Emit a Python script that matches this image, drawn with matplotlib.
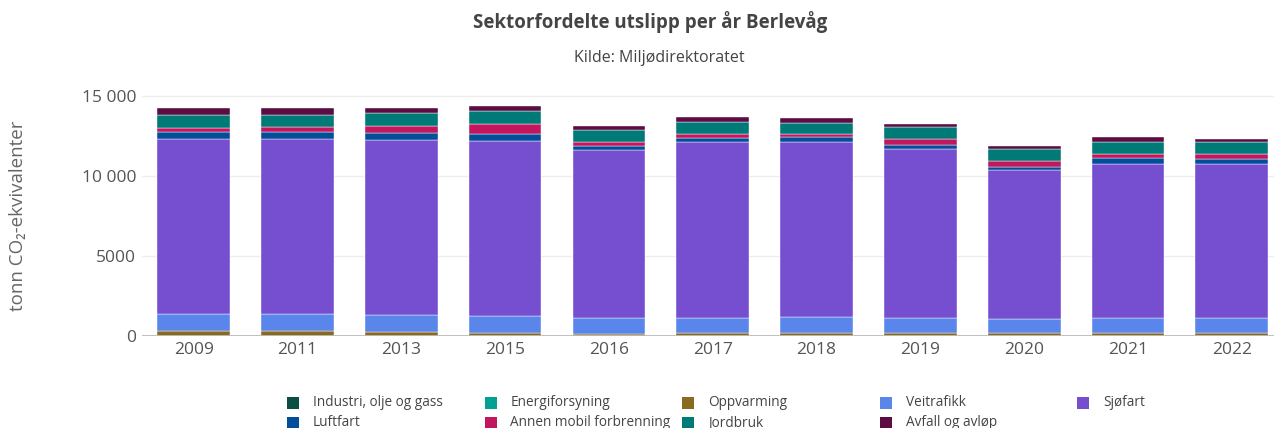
import matplotlib
matplotlib.use("Agg")
import matplotlib.pyplot as plt
from matplotlib.patches import Rectangle
import numpy as np

plt.rcParams['font.family'] = ['Open Sans', 'DejaVu Sans']

years = ["2009", "2011", "2013", "2015", "2016", "2017", "2018", "2019", "2020", "2021", "2022"]

industri = [0, 0, 0, 0, 0, 0, 0, 0, 0, 0, 0]
energiforsyning = [0, 0, 0, 0, 0, 0, 0, 0, 0, 0, 0]
oppvarming = [330, 330, 249, 187, 106, 187, 187, 187, 187, 187, 187]
veitrafikk = [1040, 1040, 1059, 1059, 1015, 934, 1015, 934, 872, 934, 934]
sjofart = [10941, 10941, 10941, 10941, 10461, 10978, 10897, 10524, 9278, 9633, 9633]
luftfart = [411, 411, 411, 411, 268, 274, 293, 268, 205, 330, 268]
annen_mobil = [274, 355, 479, 648, 249, 268, 205, 399, 355, 293, 355]
jordbruk = [828, 747, 766, 828, 747, 747, 729, 747, 747, 722, 747]
avfall = [417, 417, 336, 293, 293, 293, 293, 205, 205, 293, 205]

series = [
    ("Industri, olje og gass", industri, "#0b4f43"),
    ("Energiforsyning", energiforsyning, "#00a093"),
    ("Oppvarming", oppvarming, "#8a6a1f"),
    ("Veitrafikk", veitrafikk, "#5a86ec"),
    ("Sjøfart", sjofart, "#764ed0"),
    ("Luftfart", luftfart, "#034e98"),
    ("Annen mobil forbrenning", annen_mobil, "#c2175f"),
    ("Jordbruk", jordbruk, "#007a76"),
    ("Avfall og avløp", avfall, "#5c0b43"),
]

W, H = 1274, 428
fig = plt.figure(figsize=(W / 100, H / 100), dpi=100)
ax = fig.add_axes([141.8 / W, 92 / H, (1283.7 - 141.8) / W, 253.1 / H])

x = np.arange(len(years))
bottom = np.zeros(len(years))
colors = {}
for name, vals, col in series:
    v = np.array(vals, dtype=float)
    ax.bar(x, v, width=0.70, bottom=bottom, color=col, label=name,
           edgecolor="white", linewidth=0.3, zorder=3)
    colors[name] = col
    bottom += v

ax.set_xlim(-0.5, len(years) - 0.5)
ax.set_ylim(0, 15800)
ax.set_yticks([0, 5000, 10000, 15000])
ax.set_yticklabels(["0", "5000", "10 000", "15 000"])
ax.set_xticks(x)
ax.set_xticklabels(years)

ax.grid(axis="y", color="#eeeeee", linewidth=1, zorder=0)
ax.axhline(0, color="#bbbbbb", linewidth=2, zorder=4)
for s in ax.spines.values():
    s.set_visible(False)
ax.tick_params(axis="both", length=0, labelsize=12.5, labelcolor="#555555")
ax.tick_params(axis="y", pad=4)
ax.tick_params(axis="x", pad=4)

fig.text(18 / W, 1 - 216 / H, "tonn CO₂-ekvivalenter", rotation=90,
         ha="center", va="center", fontsize=13.5, color="#666666")

fig.text(650 / W, 1 - 22 / H, "Sektorfordelte utslipp per år Berlevåg",
         ha="center", va="center", fontsize=13.5, fontweight="bold", color="#444444")
fig.text(659 / W, 1 - 58 / H, "Kilde: Miljødirektoratet",
         ha="center", va="center", fontsize=11.5, color="#444444")

# Legend: 5 columns, row-major order, fixed column positions
legend_names = [s[0] for s in series]
for i, name in enumerate(legend_names):
    r, c = divmod(i, 5)
    x0 = 287 + 197.5 * c
    yc = 403 + 20 * r
    fig.patches.append(Rectangle((x0 / W, 1 - (yc + 6) / H), 12 / W, 12 / H,
                                 transform=fig.transFigure, facecolor=colors[name],
                                 edgecolor="none"))
    fig.text((x0 + 26) / W, 1 - yc / H, name, ha="left", va="center",
             fontsize=9.8, color="#444444")

fig.savefig("out.png", dpi=100)
